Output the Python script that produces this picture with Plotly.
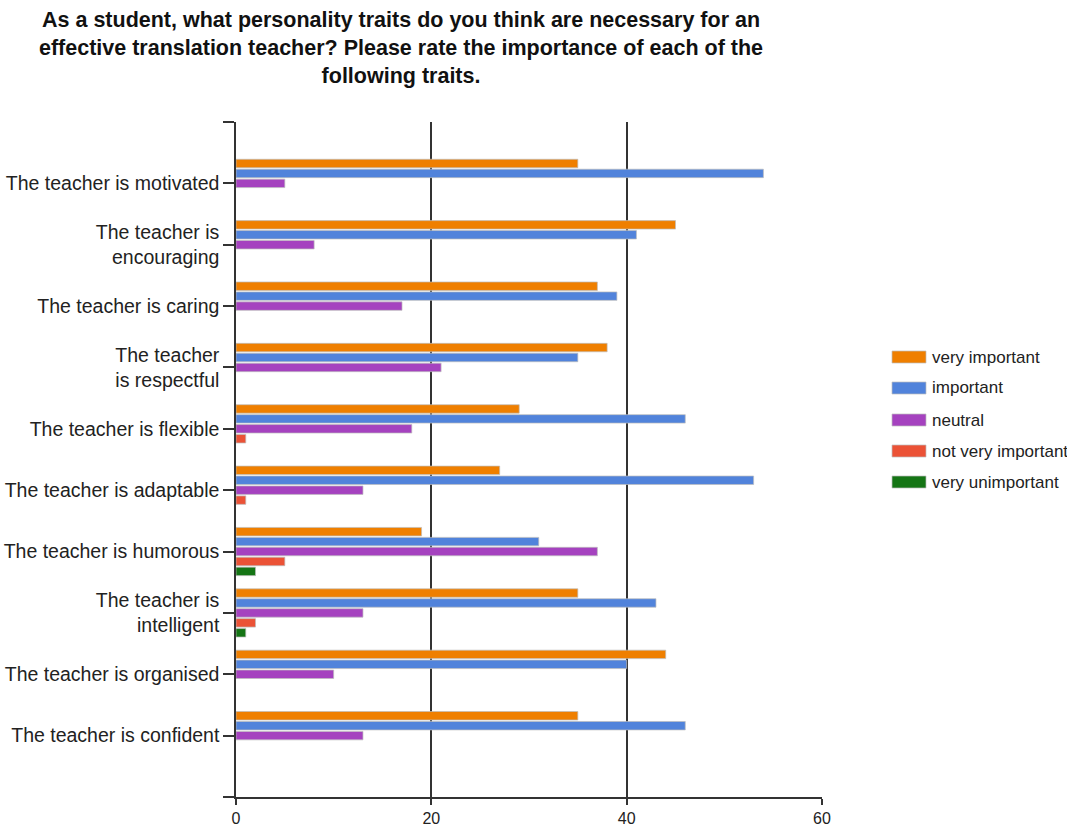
import plotly.graph_objects as go

categories = [
    "The teacher is motivated",
    "The teacher is<br>encouraging",
    "The teacher is caring",
    "The teacher<br>is respectful",
    "The teacher is flexible",
    "The teacher is adaptable",
    "The teacher is humorous",
    "The teacher is<br>intelligent",
    "The teacher is organised",
    "The teacher is confident",
]
series_names = ["very important", "important", "neutral", "not very important", "very unimportant"]
very_important = [35, 45, 37, 38, 29, 27, 19, 35, 44, 35]
important = [54, 41, 39, 35, 46, 53, 31, 43, 40, 46]
neutral = [5, 8, 17, 21, 18, 13, 37, 13, 10, 13]
not_very_important = [0, 0, 0, 0, 1, 1, 5, 2, 0, 0]
very_unimportant = [0, 0, 0, 0, 0, 0, 2, 1, 0, 0]
x_ticks = [0, 20, 40, 60]

colors = ["#EF7F00", "#5183DB", "#A542BF", "#EB5236", "#157515"]
all_series = [very_important, important, neutral, not_very_important, very_unimportant]

W, H = 1067, 828
L, R, T, B = 236, 822, 122, 797

fig = go.Figure()
ypos = list(range(len(categories)))
for name, vals, col in zip(series_names, all_series, colors):
    fig.add_trace(go.Bar(
        x=[v if v != 0 else None for v in vals],
        y=ypos,
        orientation="h",
        name=name,
        marker=dict(color=col, line=dict(color="rgba(190,190,190,0.7)", width=1)),
        showlegend=False,
        hoverinfo="x+name",
    ))

font_family = "Liberation Sans, Arial, sans-serif"

def px_x(px):
    return (px - L) / (R - L)

def px_y(py):
    return (B - py) / (B - T)

shapes = []
annotations = []
legend_y = [357, 388, 420, 451, 482]
for name, col, py in zip(series_names, colors, legend_y):
    shapes.append(dict(type="rect", xref="paper", yref="paper",
                       x0=px_x(892), x1=px_x(926), y0=px_y(py + 6), y1=px_y(py - 6),
                       fillcolor=col, line=dict(color="rgba(190,190,190,0.7)", width=1)))
    annotations.append(dict(xref="paper", yref="paper", x=px_x(930), y=px_y(py),
                            xanchor="left", yanchor="middle", text=name, showarrow=False,
                            font=dict(family=font_family, size=17, color="#222")))

annotations.append(dict(
    xref="paper", yref="paper", x=px_x(401), y=px_y(6), xanchor="center", yanchor="top",
    showarrow=False, align="center",
    text="<b>As a student, what personality traits do you think are necessary for an<br>"
         "effective translation teacher? Please rate the importance of each of the<br>"
         "following traits.</b>",
    font=dict(family=font_family, size=21.5, color="#111"),
))

fig.update_layout(
    width=W, height=H,
    margin=dict(l=L, r=W - R, t=T, b=H - B, autoexpand=False),
    paper_bgcolor="white", plot_bgcolor="white",
    barmode="group", bargap=0.19, bargroupgap=0.15,
    font=dict(family=font_family, size=18, color="#222"),
    xaxis=dict(range=[0, 60], tickvals=x_ticks, showgrid=True, gridcolor="#333", gridwidth=1.5,
               zeroline=False, showline=True, linecolor="#333", linewidth=1.5,
               ticks="outside", ticklen=6, tickcolor="#333", tickwidth=1.5,
               tickfont=dict(size=16, color="#222"), automargin=False),
    yaxis=dict(range=[10, -1], tickvals=[-1] + ypos + [10], ticktext=[""] + categories + [""],
               showgrid=False, zeroline=False, showline=True, linecolor="#333", linewidth=1.5,
               ticks="outside", ticklen=11, tickcolor="#333", tickwidth=1.5,
               tickfont=dict(size=19.5, color="#222"), automargin=False),
    shapes=shapes,
    annotations=annotations,
)

fig.write_html("out.html")
